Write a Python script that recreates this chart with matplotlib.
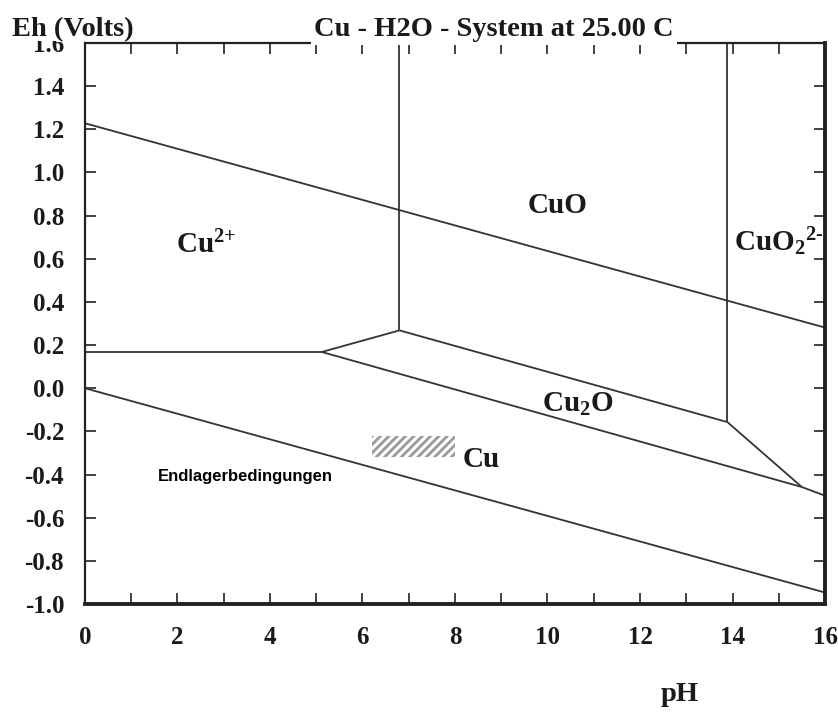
import matplotlib
matplotlib.use("Agg")
import matplotlib.pyplot as plt
from matplotlib.patches import Rectangle

plt.rcParams['font.family'] = ['Liberation Serif', 'DejaVu Serif']
plt.rcParams['font.weight'] = 'bold'
plt.rcParams['mathtext.fontset'] = 'custom'
plt.rcParams['mathtext.rm'] = 'Liberation Serif:bold'
plt.rcParams['mathtext.it'] = 'Liberation Serif:bold'
plt.rcParams['mathtext.bf'] = 'Liberation Serif:bold'
plt.rcParams['mathtext.default'] = 'rm'
plt.rcParams['hatch.linewidth'] = 2.0

# Stability field boundaries (pH, Eh in volts)
water_upper_ph = [0, 16]
water_upper_eh = [1.228, 0.281]
water_lower_ph = [0, 16]
water_lower_eh = [0.0, -0.947]
cu2_cuo_ph = [6.80, 6.80]
cu2_cuo_eh = [1.6, 0.268]
cuo_cuo2_ph = [13.89, 13.89]
cuo_cuo2_eh = [1.6, -0.157]
cu2_cu_ph = [0, 5.12]
cu2_cu_eh = [0.168, 0.168]
cu2_cu2o_ph = [5.12, 6.80]
cu2_cu2o_eh = [0.168, 0.268]
cu2o_cuo_ph = [6.80, 13.89]
cu2o_cuo_eh = [0.268, -0.157]
cu_cu2o_ph = [5.12, 15.5]
cu_cu2o_eh = [0.168, -0.458]
cuo2_cu2o_ph = [13.89, 15.5]
cuo2_cu2o_eh = [-0.157, -0.458]
cuo2_cu_ph = [15.5, 16]
cuo2_cu_eh = [-0.458, -0.498]

# repository conditions box
repo_ph = [6.2, 8.0]
repo_eh = [-0.32, -0.22]

# species labels: text, pH, Eh (left edge, baseline)
label_text = [r'Cu$^{\text{2+}}$', 'CuO', r'CuO$_2$$^{\text{2-}}$', 'Cu$_2$O', 'Cu']
label_ph = [1.97, 9.58, 14.04, 9.89, 8.17]
label_eh = [0.627, 0.81, 0.636, -0.11, -0.365]

x_ticks = [0, 2, 4, 6, 8, 10, 12, 14, 16]
y_ticks = [-1.0, -0.8, -0.6, -0.4, -0.2, 0.0, 0.2, 0.4, 0.6, 0.8, 1.0, 1.2, 1.4, 1.6]

fig = plt.figure(figsize=(8.38, 7.13), dpi=100)
ax = fig.add_axes([0.1014, 0.1529, 0.8831, 0.7868])

boundaries = [
    (water_upper_ph, water_upper_eh), (water_lower_ph, water_lower_eh),
    (cu2_cuo_ph, cu2_cuo_eh), (cuo_cuo2_ph, cuo_cuo2_eh),
    (cu2_cu_ph, cu2_cu_eh), (cu2_cu2o_ph, cu2_cu2o_eh),
    (cu2o_cuo_ph, cu2o_cuo_eh), (cu_cu2o_ph, cu_cu2o_eh),
    (cuo2_cu2o_ph, cuo2_cu2o_eh), (cuo2_cu_ph, cuo2_cu_eh),
]
for ph, eh in boundaries:
    ax.plot(ph, eh, color='#333333', lw=1.3, solid_capstyle='butt')

ax.add_patch(Rectangle((repo_ph[0], repo_eh[0]), repo_ph[1] - repo_ph[0],
                       repo_eh[1] - repo_eh[0], facecolor='none',
                       edgecolor='#9a9a9a', hatch='////', lw=0))

for txt, ph, eh in zip(label_text, label_ph, label_eh):
    ax.text(ph, eh, txt, fontsize=21, fontweight='bold', ha='left',
            va='baseline', color='#1a1a1a')

ax.text(1.58, -0.43, 'Endlagerbedingungen', fontsize=12, fontweight='bold',
        family='Liberation Sans', ha='left', va='baseline', color='black')

ax.set_xlim(0, 16)
ax.set_ylim(-1.0, 1.6)
ax.set_xticks(x_ticks)
ax.set_xticks(range(0, 17), minor=True)
ax.set_yticks(y_ticks)
ax.set_xticklabels([str(v) for v in x_ticks])
ax.set_yticklabels(['%.1f' % v for v in y_ticks])
ax.tick_params(axis='both', which='both', direction='in', top=True,
               right=True, length=8, width=1.3, color='#333333')
ax.tick_params(axis='x', which='major', labelsize=18, pad=16)
ax.tick_params(axis='y', which='major', labelsize=18, pad=15)
for lbl in ax.get_xticklabels() + ax.get_yticklabels():
    lbl.set_fontweight('bold')
    lbl.set_color('#1a1a1a')

ax.spines['left'].set_linewidth(1.6)
ax.spines['top'].set_linewidth(1.6)
ax.spines['bottom'].set_linewidth(2.8)
ax.spines['right'].set_linewidth(2.8)
for s in ax.spines.values():
    s.set_color('#222222')

# white box behind the y label hides the top of the "1.6" tick label, as in the source
fig.patches.append(Rectangle((0, 1 - 41 / 713), 80 / 838, 41 / 713,
                             transform=fig.transFigure, facecolor='white',
                             edgecolor='none', zorder=2))
fig.text(12 / 838, 1 - 36 / 713, 'Eh (Volts)', fontsize=20.5, fontweight='bold',
         ha='left', va='baseline', color='#1a1a1a')
fig.text(494 / 838, 1 - 36 / 713, 'Cu - H2O - System at 25.00 C', fontsize=20.5,
         fontweight='bold', ha='center', va='baseline', color='#1a1a1a',
         bbox=dict(facecolor='white', edgecolor='none', pad=2.5))
fig.text(680 / 838, 1 - 701 / 713, 'pH', fontsize=20.5, fontweight='bold',
         ha='center', va='baseline', color='#1a1a1a')

fig.savefig('out.png', dpi=100)
